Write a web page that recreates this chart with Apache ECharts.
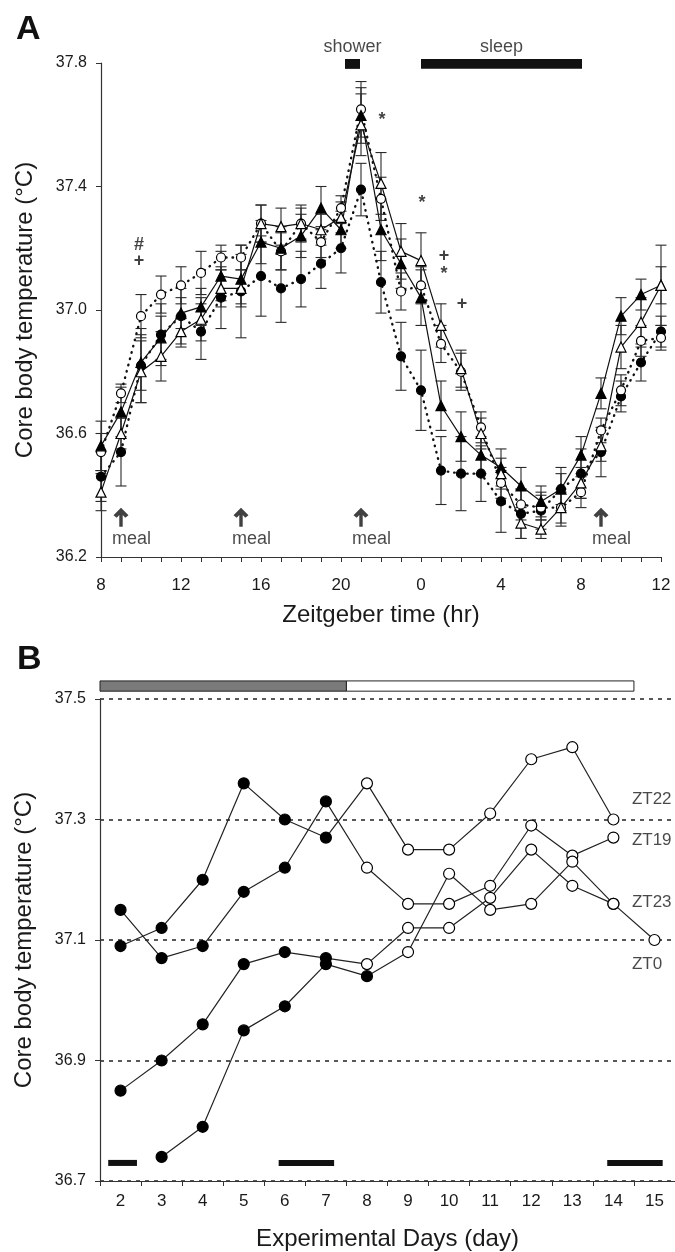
<!DOCTYPE html>
<html><head><meta charset="utf-8">
<script src="https://cdn.jsdelivr.net/npm/echarts@6/dist/echarts.min.js"></script>
<style>html,body{margin:0;padding:0;background:#fff}#c{width:675px;height:1252px}</style>
</head><body><div id="c"></div>
<script>
// ---------- Panel A data ----------
const hoursA = [8,9,10,11,12,13,14,15,16,17,18,19,20,21,22,23,24,25,26,27,28,29,30,31,32,33,34,35,36];
const filledCircle = [36.46,36.54,36.82,36.92,36.98,36.93,37.04,37.06,37.11,37.07,37.10,37.15,37.20,37.39,37.09,36.85,36.74,36.48,36.47,36.47,36.38,36.34,36.35,36.42,36.47,36.54,36.72,36.83,36.93];
const filledCircleErr = [0.08,0.11,0.12,0.10,0.09,0.09,0.10,0.15,0.13,0.11,0.09,0.08,0.08,0.085,0.10,0.11,0.13,0.11,0.12,0.09,0.10,0.08,0.06,0.07,0.08,0.08,0.05,0.06,0.05];
const openCircle = [36.54,36.73,36.98,37.05,37.08,37.12,37.17,37.17,37.28,37.19,37.28,37.22,37.33,37.65,37.36,37.06,37.08,36.89,36.80,36.62,36.44,36.37,36.36,36.36,36.41,36.61,36.74,36.90,36.91];
const openCircleErr = [0.06,0.03,0.07,0.06,0.06,0.07,0.04,0.04,0.06,0.06,0.06,0.05,0.04,0.09,0.07,0.06,0.06,0.06,0.06,0.05,0.05,0.05,0.04,0.05,0.05,0.04,0.05,0.05,0.04];
const filledTri = [36.56,36.67,36.83,36.91,36.99,37.01,37.11,37.10,37.22,37.20,37.24,37.33,37.26,37.63,37.26,37.15,37.04,36.69,36.59,36.53,36.49,36.43,36.38,36.42,36.53,36.73,36.98,37.05,37.08];
const filledTriErr = [0.08,0.08,0.09,0.07,0.05,0.06,0.08,0.08,0.07,0.07,0.07,0.07,0.06,0.09,0.10,0.08,0.09,0.08,0.08,0.06,0.06,0.06,0.05,0.05,0.06,0.05,0.06,0.05,0.06];
const openTri = [36.41,36.60,36.80,36.85,36.93,36.97,37.07,37.07,37.28,37.27,37.28,37.26,37.30,37.60,37.41,37.19,37.16,36.95,36.81,36.60,36.47,36.31,36.29,36.36,36.44,36.56,36.88,36.96,37.08];
const openTriErr = [0.06,0.05,0.10,0.08,0.05,0.07,0.06,0.06,0.06,0.06,0.05,0.05,0.05,0.10,0.10,0.09,0.09,0.07,0.06,0.05,0.05,0.05,0.03,0.06,0.05,0.05,0.07,0.08,0.13];
const mealHours = [9,15,21,33];
const eventBars = [{name:'shower', from:20.2, to:20.95},{name:'sleep', from:24, to:32.05}];
const marksA = [[9.9,37.21,'#'],[9.9,37.16,'+'],[22.05,37.615,'*'],[24.05,37.345,'*'],[25.15,37.175,'+'],[25.15,37.115,'*'],[26.05,37.02,'+']];

// ---------- Panel B data ----------
const daysB = ['2','3','4','5','6','7','8','9','10','11','12','13','14','15'];
const zt22 = [37.09,37.12,37.20,37.36,37.30,37.27,37.36,37.25,37.25,37.31,37.40,37.42,37.30];
const zt19 = [37.15,37.07,37.09,37.18,37.22,37.33,37.22,37.16,37.16,37.19,37.29,37.24,37.27];
const zt23 = [36.85,36.90,36.96,37.06,37.08,37.07,37.06,37.12,37.12,37.17,37.25,37.19,37.16];
const zt0  = [36.74,36.79,36.95,36.99,37.06,37.04,37.08,37.21,37.15,37.16,37.23,37.16,37.10];
const seriesB = [
  {name:'ZT22', start:2, lastFilled:7, values:zt22, labelY:37.334},
  {name:'ZT19', start:2, lastFilled:7, values:zt19, labelY:37.265},
  {name:'ZT23', start:2, lastFilled:7, values:zt23, labelY:37.163},
  {name:'ZT0',  start:3, lastFilled:8, values:zt0,  labelY:37.059}
];
const topBar = [{from:1.5, to:7.5, fill:'#7a7a7a'},{from:7.5, to:14.5, fill:'#ffffff'}];
const blackBarsB = [[1.7,2.4],[5.85,7.2],[13.85,15.2]];

const FONT = "'Liberation Sans', Arial, sans-serif";
const TXT = '#1a1a1a';
const AX = '#333';

function errorSeries(vals, errs){
  return {
    type:'custom', xAxisIndex:0, yAxisIndex:0, z:1, silent:true,
    data: hoursA.map((h,i)=>[h, vals[i], errs[i]]),
    encode:{x:0, y:1},
    renderItem:function(params, api){
      const x = api.value(0), y = api.value(1), e = api.value(2);
      const t = api.coord([x, y+e]), b = api.coord([x, y-e]);
      const w = 5.5, st = {stroke:'#2a2a2a', lineWidth:1.1};
      return {type:'group', children:[
        {type:'line', shape:{x1:t[0],y1:t[1],x2:b[0],y2:b[1]}, style:st},
        {type:'line', shape:{x1:t[0]-w,y1:t[1],x2:t[0]+w,y2:t[1]}, style:st},
        {type:'line', shape:{x1:b[0]-w,y1:b[1],x2:b[0]+w,y2:b[1]}, style:st}
      ]};
    }
  };
}
function lineA(vals, symbol, size, fill, dotted){
  return {
    type:'line', xAxisIndex:0, yAxisIndex:0, z:3,
    data: hoursA.map((h,i)=>[h, vals[i]]),
    symbol:symbol, symbolSize:size, showSymbol:true,
    itemStyle:{color:fill, borderColor:'#000', borderWidth:1.2, opacity:1},
    lineStyle: dotted ? {color:'#111', width:2.4, type:[0.5,6], cap:'round'} : {color:'#111', width:1.2, type:'solid'},
    emphasis:{disabled:true}
  };
}
function rectSeries(items, xi, yi, y0, y1){
  return {
    type:'custom', xAxisIndex:xi, yAxisIndex:yi, clip:false, silent:true, z:4,
    data: items.map(d=>[d.from, d.to, y0, y1]),
    renderItem:function(params, api){
      const a = api.coord([api.value(0), api.value(3)]);
      const b = api.coord([api.value(1), api.value(2)]);
      const it = items[params.dataIndex];
      return {type:'rect', shape:{x:a[0], y:a[1], width:b[0]-a[0], height:b[1]-a[1]},
        style:{fill: it.fill || '#111', stroke: it.stroke || null, lineWidth: it.stroke ? 1 : 0}};
    }
  };
}

const arrowPath = 'path://M0,7.5L7,0L14,7.5L11,10L8.6,7.4L8.6,19L5.4,19L5.4,7.4L3,10Z';

const series = [
  errorSeries(filledCircle, filledCircleErr),
  errorSeries(openCircle, openCircleErr),
  errorSeries(filledTri, filledTriErr),
  errorSeries(openTri, openTriErr),
  lineA(filledCircle, 'circle', 9, '#000', true),
  lineA(openCircle, 'circle', 9, '#fff', true),
  lineA(filledTri, 'triangle', 10, '#000', false),
  lineA(openTri, 'triangle', 10, '#fff', false),
  // meal arrows
  {type:'scatter', xAxisIndex:0, yAxisIndex:0, z:5, silent:true,
   data: mealHours.map(h=>[h, 36.329]), symbol:arrowPath, symbolSize:[15,19],
   itemStyle:{color:'#111'}},
  {type:'scatter', xAxisIndex:0, yAxisIndex:0, z:5, silent:true,
   data: mealHours.map(h=>[h, 36.257]), symbolSize:0,
   label:{show:true, position:'right', distance:0, offset:[-9,0], formatter:'meal', fontFamily:FONT, fontSize:18, color:TXT}},
  // significance marks
  {type:'scatter', xAxisIndex:0, yAxisIndex:0, z:5, silent:true,
   data: marksA.map(m=>({value:[m[0], m[1]], name:m[2]})), symbolSize:0,
   label:{show:true, position:'inside', formatter:'{b}', fontFamily:FONT, fontSize:18, fontWeight:'bold', color:'#111'}},
  // event bars (shower, sleep)
  rectSeries(eventBars, 0, 0, 37.781, 37.813),
  {type:'scatter', xAxisIndex:0, yAxisIndex:0, z:5, silent:true, clip:false,
   data: eventBars.map(d=>({value:[(d.from+d.to)/2, 37.852], name:d.name})), symbolSize:0,
   label:{show:true, position:'inside', formatter:'{b}', fontFamily:FONT, fontSize:18, color:TXT}},
  // Panel B top bar
  rectSeries(topBar.map(d=>Object.assign({stroke:'#222'}, d)), 2, 1, 37.513, 37.530),
  // Panel B black bars
  rectSeries(blackBarsB.map(d=>({from:d[0], to:d[1]})), 2, 1, 36.725, 36.735)
];

seriesB.forEach(s=>{
  series.push({
    type:'line', xAxisIndex:2, yAxisIndex:1, z:3,
    data: s.values.map((v,i)=>{
      const day = s.start + i;
      const filled = day <= s.lastFilled;
      return {value:[day, v], itemStyle:{color: filled ? '#000' : '#fff', borderColor:'#000', borderWidth:1.2}};
    }),
    symbol:'circle', symbolSize:11,
    lineStyle:{color:'#222', width:1.2},
    emphasis:{disabled:true}
  });
});
series.push({
  type:'scatter', xAxisIndex:2, yAxisIndex:1, z:5, silent:true, clip:false,
  data: seriesB.map(s=>({value:[14.45, s.labelY], name:s.name})), symbolSize:0,
  label:{show:true, position:'right', distance:0, formatter:'{b}', fontFamily:FONT, fontSize:17, color:TXT}
});

const option = {
  animation:false,
  backgroundColor:'#fff',
  textStyle:{fontFamily:FONT},
  graphic:[
    {type:'text', left:16, top:13, style:{text:'A', font:"bold 34px 'Liberation Sans', Arial", fill:'#111'}},
    {type:'text', left:17, top:643, style:{text:'B', font:"bold 34px 'Liberation Sans', Arial", fill:'#111'}}
  ],
  grid:[
    {left:101, right:14, top:63, bottom:695},
    {left:100, right:0, top:699, bottom:71}
  ],
  xAxis:[
    {type:'value', gridIndex:0, min:8, max:36, interval:1,
     axisLine:{lineStyle:{color:AX, width:1.2}},
     axisTick:{show:true, length:5, lineStyle:{color:AX}},
     axisLabel:{fontSize:17, color:TXT, margin:20, fontFamily:FONT,
       formatter:v=> ((v-8)%4===0 ? String(v%24) : '')},
     splitLine:{show:false},
     name:'Zeitgeber time (hr)', nameLocation:'middle', nameGap:46,
     nameTextStyle:{fontSize:24, color:TXT, fontFamily:FONT}},
    {type:'category', gridIndex:1, data:daysB, boundaryGap:true,
     axisLine:{lineStyle:{color:AX, width:1.2}},
     axisTick:{show:true, length:5, interval:0, lineStyle:{color:AX}},
     axisLabel:{fontSize:17, color:TXT, margin:12, interval:0, fontFamily:FONT},
     name:'Experimental Days (day)', nameLocation:'middle', nameGap:46,
     nameTextStyle:{fontSize:24, color:TXT, fontFamily:FONT}},
    {type:'value', gridIndex:1, min:1.5, max:15.5, show:false}
  ],
  yAxis:[
    {type:'value', gridIndex:0, min:36.2, max:37.8, interval:0.4,
     axisLine:{show:true, lineStyle:{color:AX, width:1.2}},
     axisTick:{show:true, length:5, lineStyle:{color:AX}},
     axisLabel:{fontSize:16, color:TXT, margin:14, fontFamily:FONT, formatter:v=>v.toFixed(1)},
     splitLine:{show:false},
     name:'Core body temperature (\u00B0C)', nameLocation:'middle', nameGap:64,
     nameTextStyle:{fontSize:24, color:TXT, fontFamily:FONT}},
    {type:'value', gridIndex:1, min:36.7, max:37.5, interval:0.2,
     axisLine:{show:true, lineStyle:{color:AX, width:1.2}},
     axisTick:{show:true, length:5, lineStyle:{color:AX}},
     axisLabel:{fontSize:16, color:TXT, margin:14, fontFamily:FONT, formatter:v=>v.toFixed(1)},
     splitLine:{show:true, lineStyle:{color:'#222', width:1.6, type:[4,5]}},
     name:'Core body temperature (\u00B0C)', nameLocation:'middle', nameGap:64,
     nameTextStyle:{fontSize:24, color:TXT, fontFamily:FONT}}
  ],
  series: series
};
const chart = echarts.init(document.getElementById('c'), null, {renderer:'canvas'});
chart.setOption(option);
</script>
</body></html>
